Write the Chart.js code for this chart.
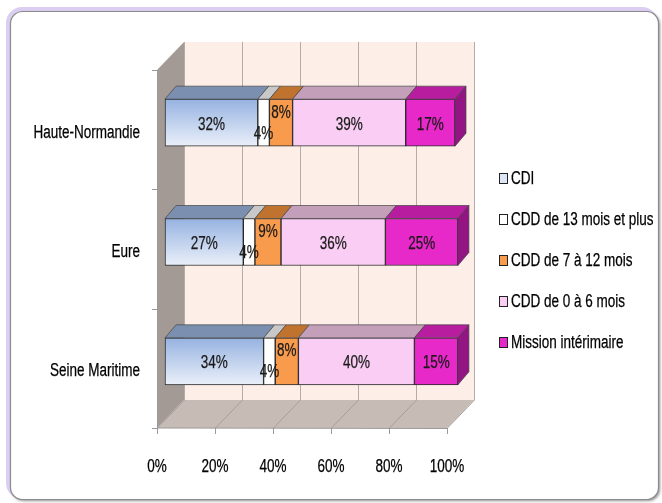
<!DOCTYPE html>
<html lang="fr">
<head>
<meta charset="UTF-8">
<title>Types de contrat</title>
<script src="https://cdn.jsdelivr.net/npm/chart.js@4.4.1/dist/chart.umd.min.js"></script>
<style>
    body { margin: 0; background: #fff; }
    canvas { display: block; }
</style>
</head>
<body>
<canvas id="chart" width="662" height="503"></canvas>
<script>
    var categories = ['Haute-Normandie', 'Eure', 'Seine Maritime'];
    var seriesNames = ['CDI', 'CDD de 13 mois et plus', 'CDD de 7 à 12 mois', 'CDD de 0 à 6 mois', 'Mission intérimaire'];
    var cdi = [32, 27, 34];
    var cdd13 = [4, 4, 4];
    var cdd7 = [8, 9, 8];
    var cdd0 = [39, 36, 40];
    var mission = [17, 25, 15];
    var xTicks = [0, 20, 40, 60, 80, 100];

    var FONT = '"Liberation Sans", Arial, sans-serif';
    var TEXT_SIZE = 18;
    var SQUEEZE = 0.75;   // narrow lettering, drawn with a horizontal scale
    Chart.defaults.font.family = FONT;

    // front face, top face, legend swatch
    var faceColors = ['#c5d5ee', '#ffffff', '#f99b4c', '#f9cdf4', '#e629c8'];
    var topColors = ['#7b8fb0', '#c8c8c8', '#c0732f', '#c49fba', '#b81da0'];
    var swatchColors = ['#dce6f4', '#ffffff', '#f99b4c', '#f9cdf4', '#e629c8'];
    var endColor = '#931584';

    // offsets of the 3D box relative to the plot area
    var FRONT = { x: -8, y: 7 };
    var BACK = { x: 19, y: -21 };
    var DEPTH = { x: 11, y: -13 };

    function poly(ctx, pts, fill, stroke, lw) {
        ctx.beginPath();
        ctx.moveTo(pts[0][0], pts[0][1]);
        for (var i = 1; i < pts.length; i++) ctx.lineTo(pts[i][0], pts[i][1]);
        ctx.closePath();
        if (fill) { ctx.fillStyle = fill; ctx.fill(); }
        if (stroke) { ctx.strokeStyle = stroke; ctx.lineWidth = lw || 1; ctx.stroke(); }
    }

    function roundRect(ctx, x, y, w, h, r) {
        ctx.beginPath();
        ctx.moveTo(x + r, y);
        ctx.arcTo(x + w, y, x + w, y + h, r);
        ctx.arcTo(x + w, y + h, x, y + h, r);
        ctx.arcTo(x, y + h, x, y, r);
        ctx.arcTo(x, y, x + w, y, r);
        ctx.closePath();
    }

    function squeezedText(ctx, text, x, y, align, color) {
        ctx.save();
        ctx.translate(x, y);
        ctx.scale(SQUEEZE, 1);
        ctx.font = TEXT_SIZE + 'px ' + FONT;
        ctx.fillStyle = ctx.strokeStyle = color || '#000';
        ctx.lineWidth = 0.25;
        ctx.textAlign = align;
        ctx.textBaseline = 'middle';
        ctx.fillText(text, 0, 0);
        ctx.strokeText(text, 0, 0);
        ctx.restore();
    }

    var framePlugin = {
        id: 'frame',
        beforeDraw: function (chart) {
            var ctx = chart.ctx;
            ctx.save();
            // lilac glow along the top and left edges
            roundRect(ctx, 8, 9, 648, 488, 14);
            ctx.strokeStyle = '#dccdf3';
            ctx.lineWidth = 4;
            ctx.stroke();
            ctx.shadowColor = 'rgba(0,0,0,0.45)';
            ctx.shadowBlur = 3;
            ctx.shadowOffsetX = 1.5;
            ctx.shadowOffsetY = 1.5;
            roundRect(ctx, 10.5, 11.5, 648, 488, 12);
            ctx.fillStyle = '#fff';
            ctx.fill();
            ctx.shadowColor = 'transparent';
            ctx.strokeStyle = '#8c8c8c';
            ctx.lineWidth = 1.2;
            ctx.stroke();
            ctx.restore();
        }
    };

    var wallsPlugin = {
        id: 'walls',
        beforeDatasetsDraw: function (chart) {
            var ctx = chart.ctx, a = chart.chartArea, xs = chart.scales.x, ys = chart.scales.y;
            var L = a.left, R = a.right, T = a.top, B = a.bottom;
            ctx.save();
            // side wall
            poly(ctx, [[L + FRONT.x, T + FRONT.y], [L + BACK.x, T + BACK.y], [L + BACK.x, B + BACK.y], [L + FRONT.x, B + FRONT.y]], '#a39a95');
            // back wall
            poly(ctx, [[L + BACK.x, T + BACK.y], [R + BACK.x, T + BACK.y], [R + BACK.x, B + BACK.y], [L + BACK.x, B + BACK.y]], '#fdefe8');
            // floor
            poly(ctx, [[L + FRONT.x, B + FRONT.y], [R + FRONT.x, B + FRONT.y], [R + BACK.x, B + BACK.y], [L + BACK.x, B + BACK.y]], '#c7bcb5');
            // gridlines on wall and floor
            ctx.lineWidth = 1;
            xTicks.forEach(function (t) {
                var px = Math.round(xs.getPixelForValue(t)) + 0.5;
                ctx.strokeStyle = '#b3aca8';
                ctx.beginPath();
                ctx.moveTo(px + BACK.x, T + BACK.y);
                ctx.lineTo(px + BACK.x, B + BACK.y);
                ctx.stroke();
                ctx.strokeStyle = '#a89e98';
                ctx.beginPath();
                ctx.moveTo(px + BACK.x, B + BACK.y);
                ctx.lineTo(px + FRONT.x, B + FRONT.y);
                ctx.stroke();
            });
            // front axes with tick marks
            ctx.strokeStyle = '#9a9a9a';
            ctx.beginPath();
            ctx.moveTo(L + FRONT.x + 0.5, T + FRONT.y);
            ctx.lineTo(L + FRONT.x + 0.5, B + FRONT.y);
            ctx.lineTo(R + FRONT.x, B + FRONT.y + 0.5);
            xTicks.forEach(function (t) {
                var px = Math.round(xs.getPixelForValue(t)) + FRONT.x + 0.5;
                ctx.moveTo(px, B + FRONT.y);
                ctx.lineTo(px, B + FRONT.y + 6);
            });
            var band = (B - T) / categories.length;
            for (var i = 0; i <= categories.length; i++) {
                var py = Math.round(T + i * band + FRONT.y) + 0.5;
                ctx.moveTo(L + FRONT.x - 5, py);
                ctx.lineTo(L + FRONT.x, py);
            }
            ctx.stroke();
            ctx.restore();

            // axis labels, placed on the front edges
            xTicks.forEach(function (t) {
                squeezedText(ctx, t + '%', xs.getPixelForValue(t) + FRONT.x, B + 46, 'center');
            });
            categories.forEach(function (c, i) {
                squeezedText(ctx, c, L + FRONT.x - 17, ys.getPixelForValue(i) + 10, 'right');
            });
        },
        afterDatasetsDraw: function (chart) {
            var ctx = chart.ctx;
            var last = chart.data.datasets.length - 1;
            ctx.save();
            ctx.lineJoin = 'round';
            chart.data.datasets.forEach(function (ds, di) {
                chart.getDatasetMeta(di).data.forEach(function (el) {
                    var p = el.getProps(['x', 'base', 'y', 'height'], true);
                    var x0 = Math.min(p.x, p.base), x1 = Math.max(p.x, p.base);
                    var top = p.y - p.height / 2, bot = p.y + p.height / 2;
                    poly(ctx, [[x0, top], [x1, top], [x1 + DEPTH.x, top + DEPTH.y], [x0 + DEPTH.x, top + DEPTH.y]], topColors[di], '#444', 0.7);
                    if (di === last) {
                        poly(ctx, [[x1, top], [x1 + DEPTH.x, top + DEPTH.y], [x1 + DEPTH.x, bot + DEPTH.y], [x1, bot]], endColor, '#444', 0.7);
                    }
                });
            });
            ctx.restore();
            // value labels; narrow segments are nudged off-centre
            chart.data.datasets.forEach(function (ds, di) {
                chart.getDatasetMeta(di).data.forEach(function (el, i) {
                    var v = ds.data[i];
                    var p = el.getProps(['x', 'base', 'y'], true);
                    var dy = 2;
                    if (v <= 5) dy = 11;
                    else if (v < 10) dy = -10;
                    squeezedText(ctx, v + '%', (p.x + p.base) / 2, p.y + dy, 'center', '#1a1a1a');
                });
            });
        },
        afterDraw: function (chart) {
            var ctx = chart.ctx;
            seriesNames.forEach(function (name, i) {
                var cy = 179 + i * 41;
                ctx.save();
                ctx.fillStyle = swatchColors[i];
                ctx.fillRect(499.5, cy - 5.5, 8, 10);
                ctx.strokeStyle = '#222';
                ctx.lineWidth = 1;
                ctx.strokeRect(499.5, cy - 5.5, 8, 10);
                ctx.restore();
                squeezedText(ctx, name, 511, cy, 'left');
            });
        }
    };

    var cdiGradient = function (c) {
        var ch = c.chart, ys = ch.scales.y;
        if (!ys || !ch.chartArea) return faceColors[0];
        var yc = ys.getPixelForValue(c.dataIndex);
        var g = ch.ctx.createLinearGradient(0, yc - 23, 0, yc + 23);
        g.addColorStop(0, '#97b3e1');
        g.addColorStop(1, '#e9eff9');
        return g;
    };

    var seriesData = [cdi, cdd13, cdd7, cdd0, mission];
    var datasets = seriesData.map(function (values, i) {
        return {
            label: seriesNames[i],
            data: values,
            backgroundColor: i === 0 ? cdiGradient : faceColors[i],
            borderColor: '#262626',
            borderWidth: 1,
            borderSkipped: false,
            barThickness: 47,
            clip: false
        };
    });

    new Chart(document.getElementById('chart'), {
        type: 'bar',
        data: { labels: categories, datasets: datasets },
        options: {
            indexAxis: 'y',
            responsive: false,
            animation: false,
            devicePixelRatio: 1,
            layout: { padding: { left: 0, top: 63, right: 207, bottom: 0 } },
            plugins: {
                legend: { display: false },
                tooltip: { enabled: false }
            },
            scales: {
                x: {
                    stacked: true,
                    min: 0,
                    max: 100,
                    grid: { display: false },
                    border: { display: false },
                    ticks: { display: false, stepSize: 20 },
                    afterFit: function (s) { s.height = 82; }
                },
                y: {
                    stacked: true,
                    grid: { display: false },
                    border: { display: false },
                    ticks: { display: false },
                    afterFit: function (s) { s.width = 165; }
                }
            }
        },
        plugins: [framePlugin, wallsPlugin]
    });
</script>
</body>
</html>
